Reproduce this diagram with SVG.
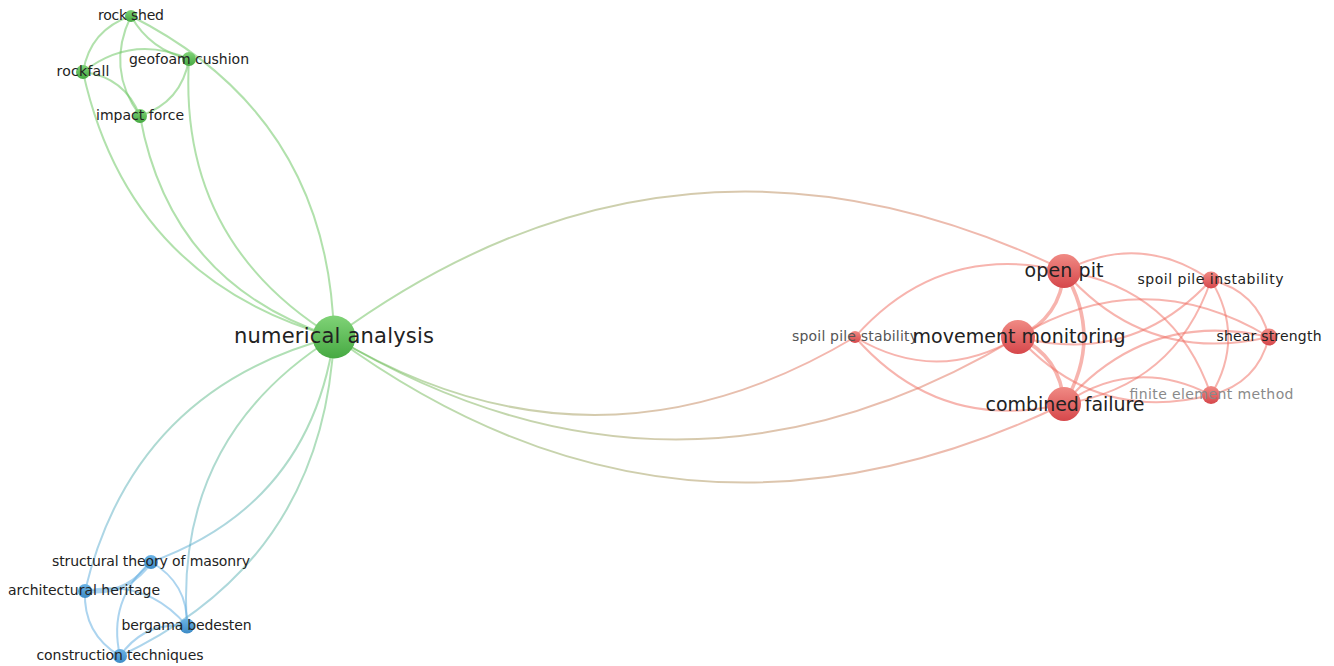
<svg xmlns="http://www.w3.org/2000/svg" width="1334" height="666" viewBox="0 0 1334 666">
<defs>
<style>
.e{fill:none;stroke-width:2;stroke-opacity:.5}
.eg{stroke:#64c45a}
.er{stroke:#f06a5e}
.eb{stroke:#5aa9e0}
.th{stroke-width:3.6}
.lbl{font-family:"DejaVu Sans","Liberation Sans",sans-serif;fill:#222;text-anchor:middle}
.s{font-size:14px}
.b{font-size:19px}
.ng{fill:url(#gG)}
.nr{fill:url(#gR)}
.nb{fill:url(#gB)}
</style>
<linearGradient id="gG" x1="0" y1="0" x2="0" y2="1"><stop offset="0" stop-color="#80d377"/><stop offset="1" stop-color="#46a942"/></linearGradient>
<linearGradient id="gR" x1="0" y1="0" x2="0" y2="1"><stop offset="0" stop-color="#f08a84"/><stop offset="1" stop-color="#d6474b"/></linearGradient>
<linearGradient id="gB" x1="0" y1="0" x2="0" y2="1"><stop offset="0" stop-color="#6cb4e6"/><stop offset="1" stop-color="#3d8bc6"/></linearGradient>
<linearGradient id="l1" gradientUnits="userSpaceOnUse" x1="334" y1="337" x2="1064" y2="270"><stop offset="0" stop-color="#64c45a"/><stop offset="1" stop-color="#f06a5e"/></linearGradient>
<linearGradient id="l2" gradientUnits="userSpaceOnUse" x1="334" y1="337" x2="1018" y2="337"><stop offset="0" stop-color="#64c45a"/><stop offset="1" stop-color="#f06a5e"/></linearGradient>
<linearGradient id="l3" gradientUnits="userSpaceOnUse" x1="334" y1="337" x2="1064" y2="404"><stop offset="0" stop-color="#64c45a"/><stop offset="1" stop-color="#f06a5e"/></linearGradient>
<linearGradient id="l4" gradientUnits="userSpaceOnUse" x1="334" y1="337" x2="855" y2="337"><stop offset="0" stop-color="#64c45a"/><stop offset="1" stop-color="#f06a5e"/></linearGradient>
<linearGradient id="b1" gradientUnits="userSpaceOnUse" x1="334" y1="337" x2="151" y2="562"><stop offset="0" stop-color="#64c45a"/><stop offset="1" stop-color="#5aa9e0"/></linearGradient>
<linearGradient id="b2" gradientUnits="userSpaceOnUse" x1="334" y1="337" x2="85" y2="591"><stop offset="0" stop-color="#64c45a"/><stop offset="1" stop-color="#5aa9e0"/></linearGradient>
<linearGradient id="b3" gradientUnits="userSpaceOnUse" x1="334" y1="337" x2="187" y2="626"><stop offset="0" stop-color="#64c45a"/><stop offset="1" stop-color="#5aa9e0"/></linearGradient>
<linearGradient id="b4" gradientUnits="userSpaceOnUse" x1="334" y1="337" x2="120" y2="656"><stop offset="0" stop-color="#64c45a"/><stop offset="1" stop-color="#5aa9e0"/></linearGradient>
</defs>
<rect width="1334" height="666" fill="#ffffff"/>
<g id="connectors">
<path class="e eg" d="M334,337 Q328.8,115.6 131,16"/>
<path class="e eg" d="M334,337 Q178,241.5 189,59"/>
<path class="e eg" d="M334,337 Q129,279.8 83,72"/>
<path class="e eg" d="M334,337 Q170.7,284.7 140,116"/>
<path class="e eg" d="M131,16 Q90.2,29.6 83,72"/>
<path class="e eg" d="M131,16 Q105.5,68.7 140,116"/>
<path class="e eg" d="M131,16 Q150,50 189,59"/>
<path class="e eg" d="M83,72 Q132,33.7 189,59"/>
<path class="e eg" d="M83,72 Q124.7,76.9 140,116"/>
<path class="e eg" d="M189,59 Q181.6,102.2 140,116"/>
<path class="e" stroke="url(#b1)" d="M334,337 Q310,504.4 151,562"/>
<path class="e" stroke="url(#b2)" d="M334,337 Q133.3,389.3 85,591"/>
<path class="e" stroke="url(#b3)" d="M334,337 Q173.8,437.4 187,626"/>
<path class="e" stroke="url(#b4)" d="M334,337 Q322.7,560.7 120,656"/>
<path class="e eb th" d="M85,591 Q126.7,596.3 151,562"/>
<path class="e eb" d="M85,591 Q146.5,577.9 187,626"/>
<path class="e eb" d="M85,591 Q83,634 120,656"/>
<path class="e eb" d="M151,562 Q107.3,599.7 120,656"/>
<path class="e eb" d="M151,562 Q188.2,583.2 187,626"/>
<path class="e eb" d="M187,626 Q144.5,621 120,656"/>
<path class="e" stroke="url(#l1)" d="M334,337 Q678.9,84.5 1064,270"/>
<path class="e" stroke="url(#l2)" d="M334,337 Q676,542 1018,337"/>
<path class="e" stroke="url(#l3)" d="M334,337 Q678.9,589.5 1064,404"/>
<path class="e" stroke="url(#l4)" d="M334,337 Q594.5,493 855,337"/>
<path class="e er th" d="M1064,271 Q1060.8,317.8 1018,337"/>
<path class="e er th" d="M1064,271 Q1103.9,337.5 1064,404"/>
<path class="e er th" d="M1018,337 Q1061,356.7 1064,404"/>
<path class="e er" d="M1064,271 Q1140.2,231.4 1211,280"/>
<path class="e er" d="M1064,271 Q1146.7,365.5 1269,337"/>
<path class="e er" d="M1064,271 Q1174.7,288.9 1211,395"/>
<path class="e er" d="M855,337 Q939.7,241.3 1064,271"/>
<path class="e er" d="M855,337 Q936.5,385.9 1018,337"/>
<path class="e er" d="M855,337 Q939.4,433.2 1064,404"/>
<path class="e er" d="M1018,337 Q1131.6,366.4 1211,280"/>
<path class="e er" d="M1018,337 Q1143.5,261.7 1269,337"/>
<path class="e er" d="M1018,337 Q1097.1,423.9 1211,395"/>
<path class="e er" d="M1064,404 Q1174.7,386.1 1211,280"/>
<path class="e er" d="M1064,404 Q1146.4,309 1269,337"/>
<path class="e er" d="M1064,404 Q1134.8,355.4 1211,395"/>
<path class="e er" d="M1211,280 Q1257.1,291.1 1269,337"/>
<path class="e er" d="M1211,280 Q1245.5,337.5 1211,395"/>
<path class="e er" d="M1269,337 Q1257.4,383.4 1211,395"/>
</g>
<g id="rock-shed"><circle class="ng" cx="131" cy="16" r="6"/><text class="lbl s" x="131" y="20" textLength="66">rock shed</text></g>
<g id="geofoam-cushion"><circle class="ng" cx="189" cy="59" r="7"/><text class="lbl s" x="189" y="64" textLength="120">geofoam cushion</text></g>
<g id="rockfall"><circle class="ng" cx="83" cy="72" r="7"/><text class="lbl s" x="83" y="76" textLength="53">rockfall</text></g>
<g id="impact-force"><circle class="ng" cx="140" cy="116" r="7"/><text class="lbl s" x="140" y="120" textLength="88">impact force</text></g>
<g id="numerical-analysis"><circle class="ng" cx="334" cy="337" r="21.5"/><text class="lbl" font-size="21" x="334" y="343" textLength="200">numerical analysis</text></g>
<g id="structural-theory-of-masonry"><circle class="nb" cx="151" cy="562" r="7"/><text class="lbl s" x="151" y="566" textLength="198">structural theory of masonry</text></g>
<g id="architectural-heritage"><circle class="nb" cx="85" cy="591" r="7"/><text class="lbl s" x="84" y="595" textLength="152">architectural heritage</text></g>
<g id="bergama-bedesten"><circle class="nb" cx="187" cy="626" r="7.5"/><text class="lbl s" x="186.5" y="630" textLength="130">bergama bedesten</text></g>
<g id="construction-techniques"><circle class="nb" cx="120" cy="656" r="7"/><text class="lbl s" x="120" y="660" textLength="167">construction techniques</text></g>
<g id="spoil-pile-stability"><circle class="nr" cx="855" cy="337" r="6"/><text class="lbl s" style="fill:#555" x="855" y="341" textLength="126">spoil pile stability</text></g>
<g id="spoil-pile-instability"><circle class="nr" cx="1211" cy="280" r="8.5"/><text class="lbl s" x="1210.5" y="284" textLength="146">spoil pile instability</text></g>
<g id="shear-strength"><circle class="nr" cx="1269" cy="337" r="8.5"/><text class="lbl s" x="1269" y="341" textLength="105">shear strength</text></g>
<g id="finite-element-method"><circle class="nr" cx="1211" cy="395" r="9"/><text class="lbl s" style="fill:#8a8a8a" x="1211.5" y="399" textLength="164">finite element method</text></g>
<g id="open-pit"><circle class="nr" cx="1064" cy="271" r="17"/><text class="lbl b" x="1064" y="276.5" textLength="79">open pit</text></g>
<g id="movement-monitoring"><circle class="nr" cx="1018" cy="337" r="17"/><text class="lbl b" x="1019" y="343" textLength="213">movement monitoring</text></g>
<g id="combined-failure"><circle class="nr" cx="1064" cy="404" r="17"/><text class="lbl b" x="1065" y="411" textLength="159">combined failure</text></g>
</svg>
